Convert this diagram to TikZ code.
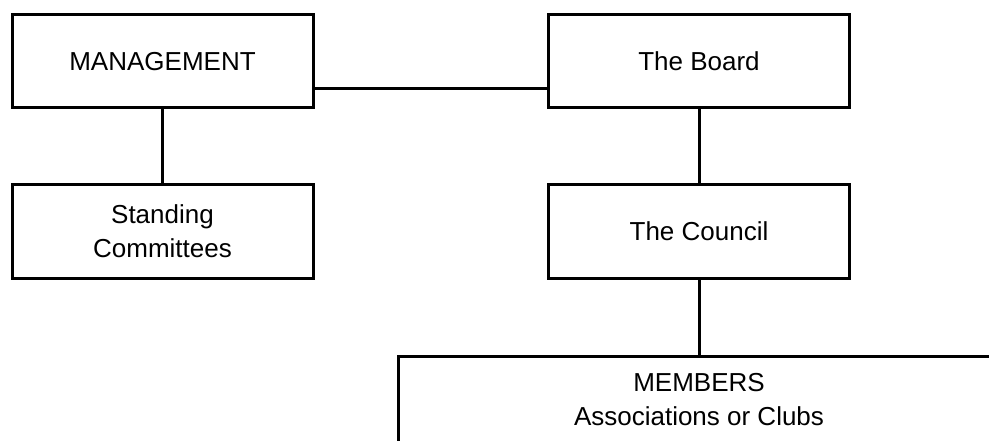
\documentclass[tikz,border=0pt]{standalone}
\usepackage{fontspec}
\setmainfont{Liberation Sans}
\begin{document}
\begin{tikzpicture}[x=1pt,y=-1pt,
  box/.style={draw=black, line width=3pt, fill=white, minimum width=301pt, minimum height=93pt, inner sep=0pt, align=center, font=\fontsize{26}{34}\selectfont},
  conn/.style={draw=black, line width=3pt}]
\clip (0,0) rectangle (989,441);
\useasboundingbox (0,0) rectangle (989,441);
\node[box] (mg) at (162.5,61.5) {MANAGEMENT};
\node[box] (bd) at (699,61.5) {The Board};
\node[box] (sc) at (162.5,231.5) {Standing\\Committees};
\node[box] (co) at (699,231.5) {The Council};
\node[box, minimum width=602pt, minimum height=88pt] (mb) at (699,400) {MEMBERS\\Associations or Clubs};
\draw[conn] ([yshift=-27.5pt]mg.east) -- ([yshift=-27.5pt]bd.west);
\draw[conn] (mg.south) -- (sc.north);
\draw[conn] (bd.south) -- (co.north);
\draw[conn] (co.south) -- (mb.north);
\end{tikzpicture}
\end{document}
